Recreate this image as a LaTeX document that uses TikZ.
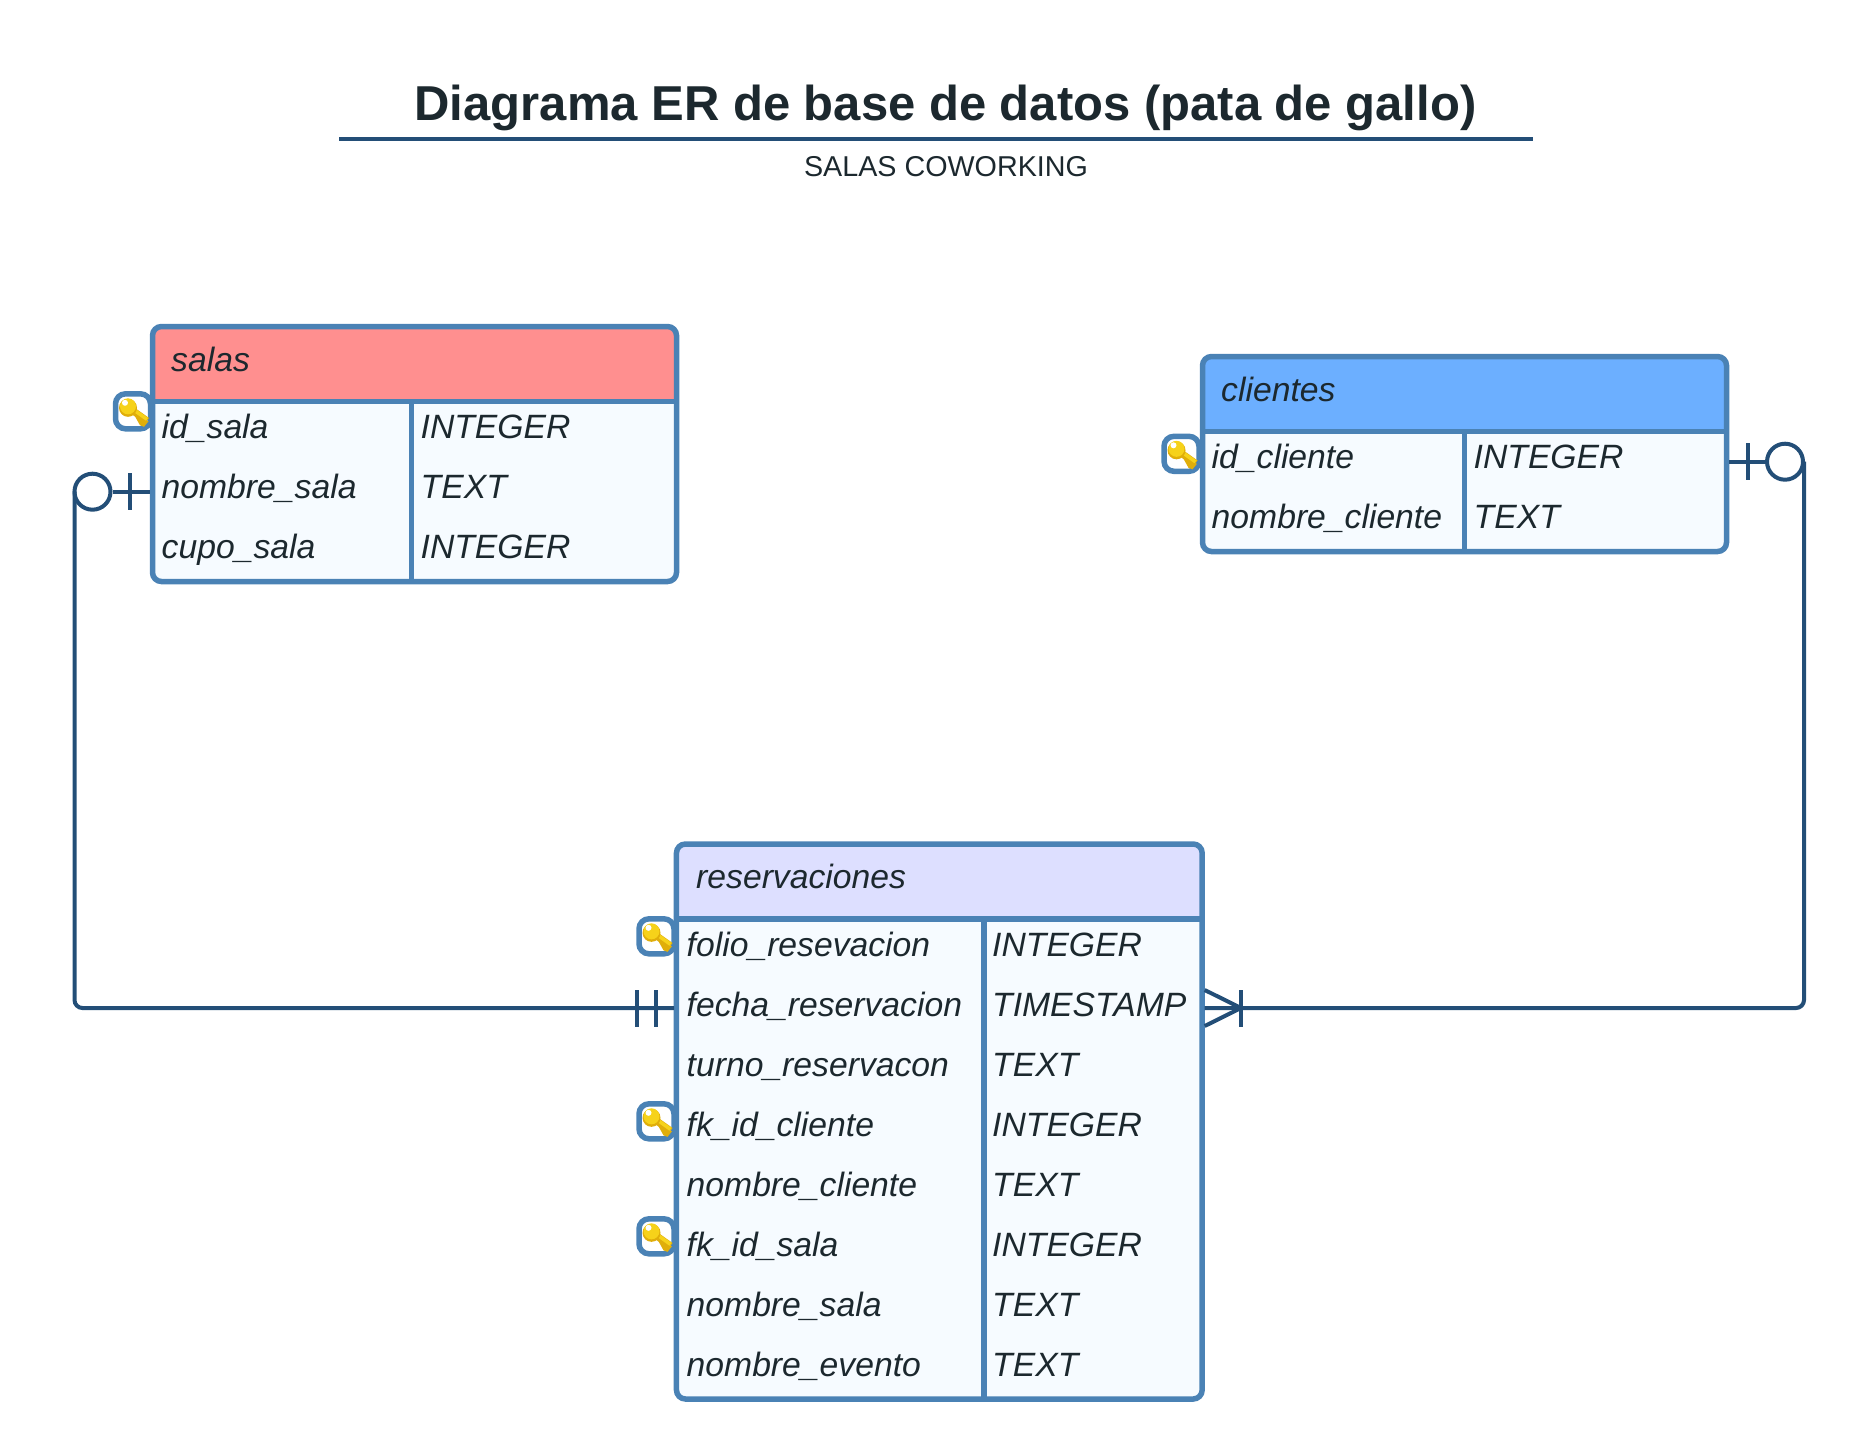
\documentclass[tikz,border=0pt]{standalone}
\usepackage{fontspec}
\setmainfont{Liberation Sans}
\usepackage{tikz}
\usetikzlibrary{positioning}
\definecolor{framecol}{HTML}{4A82B5}
\definecolor{conncol}{HTML}{234E77}
\definecolor{textcol}{HTML}{1C282E}
\definecolor{bodycol}{HTML}{F6FBFF}
\definecolor{salascol}{HTML}{FF8F8F}
\definecolor{clientescol}{HTML}{6CAFFF}
\definecolor{resvcol}{HTML}{DDDFFF}
\definecolor{keygold}{HTML}{F6D21A}
\definecolor{keydark}{HTML}{E0AE0A}
\begin{document}
\begin{tikzpicture}
[x=1pt,y=-1pt,
tablebox/.style={rounded corners=9pt,draw=framecol,line width=5.5pt,fill=bodycol,inner sep=0pt},
headfill/.style={path picture={\fill[#1] (path picture bounding box.north west) rectangle ([yshift=-75pt]path picture bounding box.north east);}},
tableline/.style={draw=framecol,line width=5.5pt},
rowtext/.style={anchor=base west,inner sep=0pt,yshift=-1pt,text=textcol,font=\fontsize{33.7}{40}\selectfont\itshape},
keybox/.style={rounded corners=10pt,draw=framecol,line width=5.5pt,fill=white,minimum size=35pt,inner sep=0pt},
conn/.style={draw=conncol,line width=4pt},
optcircle/.style={circle,draw=conncol,line width=4pt,fill=white,minimum size=36pt,inner sep=0pt},
keyicon/.pic={
\fill[keydark] (2,5) -- (7,14) -- (11,15.5) -- (15.5,10) -- cycle;
\draw[keydark,line width=7pt] (-5,-4) -- (14,9.5);
\draw[keygold,line width=3.5pt] (-5,-5.5) -- (14,8);
\fill[keydark] (-5,-3.5) circle [radius=9];
\fill[keygold] (-5,-5) circle [radius=8];
\fill[white] (-8,-8.5) circle [radius=3];
}]

\useasboundingbox (0,0) rectangle (1862,1438);

\node[anchor=base,inner sep=0pt,text=textcol,font=\fontsize{49}{56}\selectfont\bfseries] (title) at (945.5,120) {Diagrama ER de base de datos (pata de gallo)};
\node[anchor=base,inner sep=0pt,text=textcol,font=\fontsize{28.7}{36}\selectfont] (subtitle) at (946,176.5) {SALAS COWORKING};
\coordinate (rulea) at (339,139);
\coordinate (ruleb) at (1533,139);
\draw [conn] (rulea) -- (ruleb);

% salas
\node[tablebox,headfill=salascol,minimum width=524pt,minimum height=255pt] (salas) at (414.5,454) {};
\coordinate (salashead) at (0,401.7);
\coordinate (salassep) at (411.5,0);
\draw [tableline] (salas.west |- salashead) -- (salas.east |- salashead);
\draw [tableline] (salassep |- salashead) -- (salassep |- salas.south);
\node[rowtext] (salastitle) at (171,370.7) {salas};
\node[rowtext] (salas1) at (161.5,437.5) {id\_sala};
\node[rowtext] (salas2) at (161.5,497.5) {nombre\_sala};
\node[rowtext] (salas3) at (161.5,557.5) {cupo\_sala};
\node[rowtext] (salast1) at (420.5,437.5) {INTEGER};
\node[rowtext] (salast2) at (420.5,497.5) {TEXT};
\node[rowtext] (salast3) at (420.5,557.5) {INTEGER};
\node[keybox] (salaskey) at (133,411.3) {};
\pic at (salaskey) {keyicon};

% clientes
\node[tablebox,headfill=clientescol,minimum width=524pt,minimum height=195pt] (clientes) at (1464.5,454) {};
\coordinate (clienteshead) at (0,431.7);
\coordinate (clientessep) at (1464.4,0);
\draw [tableline] (clientes.west |- clienteshead) -- (clientes.east |- clienteshead);
\draw [tableline] (clientessep |- clienteshead) -- (clientessep |- clientes.south);
\node[rowtext] (clientestitle) at (1221,400.7) {clientes};
\node[rowtext] (clientes1) at (1211.5,467.5) {id\_cliente};
\node[rowtext] (clientes2) at (1211.5,527.5) {nombre\_cliente};
\node[rowtext] (clientest1) at (1473.5,467.5) {INTEGER};
\node[rowtext] (clientest2) at (1473.5,527.5) {TEXT};
\node[keybox] (clienteskey) at (1181.5,453.8) {};
\pic at (clienteskey) {keyicon};

% reservaciones
\node[tablebox,headfill=resvcol,minimum width=525.7pt,minimum height=555pt] (resv) at (939.3,1121.5) {};
\coordinate (resvhead) at (0,919);
\coordinate (resvsep) at (984,0);
\draw [tableline] (resv.west |- resvhead) -- (resv.east |- resvhead);
\draw [tableline] (resvsep |- resvhead) -- (resvsep |- resv.south);
\node[rowtext] (resvtitle) at (696,887.3) {reservaciones};
\node[rowtext] (resv1) at (686.5,955) {folio\_resevacion};
\node[rowtext] (resv2) at (686.5,1015) {fecha\_reservacion};
\node[rowtext] (resv3) at (686.5,1075) {turno\_reservacon};
\node[rowtext] (resv4) at (686.5,1135) {fk\_id\_cliente};
\node[rowtext] (resv5) at (686.5,1195) {nombre\_cliente};
\node[rowtext] (resv6) at (686.5,1255) {fk\_id\_sala};
\node[rowtext] (resv7) at (686.5,1315) {nombre\_sala};
\node[rowtext] (resv8) at (686.5,1375) {nombre\_evento};
\node[rowtext] (resvt1) at (992,955) {INTEGER};
\node[rowtext] (resvt2) at (992,1015) {TIMESTAMP};
\node[rowtext] (resvt3) at (992,1075) {TEXT};
\node[rowtext] (resvt4) at (992,1135) {INTEGER};
\node[rowtext] (resvt5) at (992,1195) {TEXT};
\node[rowtext] (resvt6) at (992,1255) {INTEGER};
\node[rowtext] (resvt7) at (992,1315) {TEXT};
\node[rowtext] (resvt8) at (992,1375) {TEXT};
\node[keybox] (resvkey1) at (656.5,936.3) {};
\node[keybox] (resvkey2) at (656.5,1121.3) {};
\node[keybox] (resvkey3) at (656.5,1236.3) {};
\pic at (resvkey1) {keyicon};
\pic at (resvkey2) {keyicon};
\pic at (resvkey3) {keyicon};

% salas to reservaciones
\node[optcircle] (salasopt) at (92.5,491.7) {};
\coordinate (salasin) at (salas.west |- salasopt);
\coordinate (salasdrop) at (74.5,491.7);
\coordinate (salastick1) at (130,473);
\coordinate (salastick2) at (130,510.4);
\coordinate (resvin) at (674,1008);
\coordinate (resvtick1) at (637,990);
\coordinate (resvtick2) at (637,1026.7);
\coordinate (resvtick3) at (655.5,990);
\coordinate (resvtick4) at (655.5,1026.7);
\draw [conn] (salasopt) -- (salasin);
\draw [conn] (salastick1) -- (salastick2);
\draw [conn,rounded corners=8pt] (salasdrop) |- (resvin);
\draw [conn] (resvtick1) -- (resvtick2);
\draw [conn] (resvtick3) -- (resvtick4);

% clientes to reservaciones
\node[optcircle] (clientesopt) at (1785,461.7) {};
\coordinate (clientesout) at (clientes.east |- clientesopt);
\coordinate (clientesdrop) at (1804,461.7);
\coordinate (clientestick1) at (1748.4,443);
\coordinate (clientestick2) at (1748.4,480.4);
\coordinate (resvout) at (1204.7,1008);
\coordinate (crowtop) at (1204.7,990);
\coordinate (crowbot) at (1204.7,1026);
\coordinate (crowapex) at (1241,1008);
\coordinate (crowtick1) at (1241,990);
\coordinate (crowtick2) at (1241,1026.7);
\draw [conn] (clientesopt) -- (clientesout);
\draw [conn] (clientestick1) -- (clientestick2);
\draw [conn,rounded corners=8pt] (clientesdrop) |- (resvout);
\draw [conn] (crowtop) -- (crowapex) -- (crowbot);
\draw [conn] (crowtick1) -- (crowtick2);
\end{tikzpicture}
\end{document}
